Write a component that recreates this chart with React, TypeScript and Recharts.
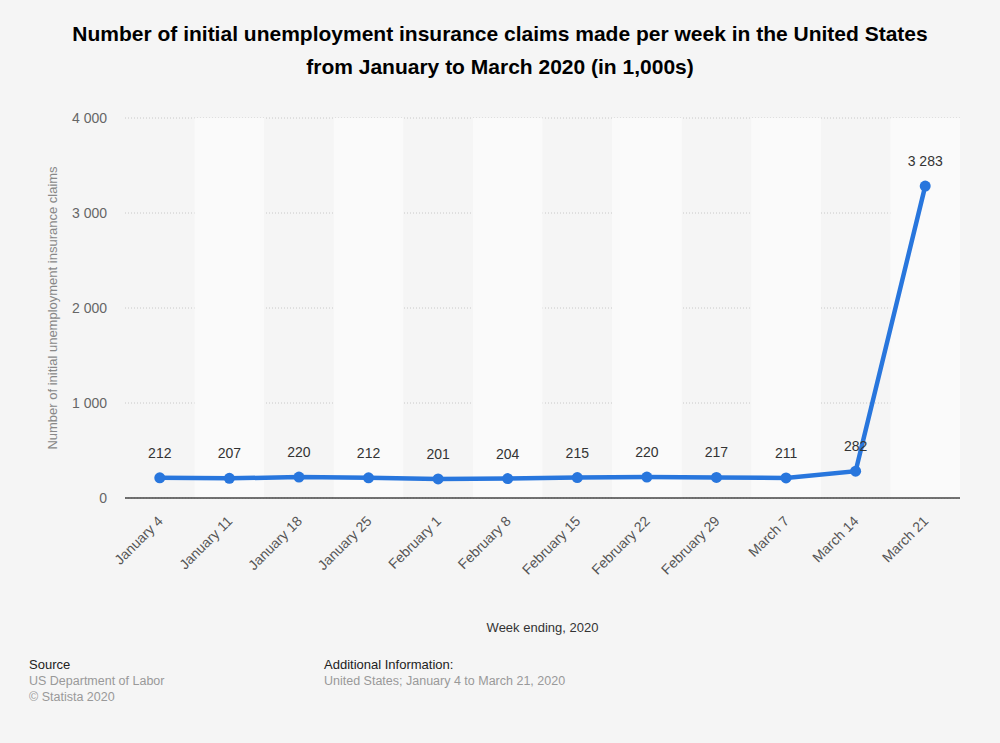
import React from "react";
import {
  CartesianGrid,
  LabelList,
  Line,
  LineChart,
  ReferenceArea,
  XAxis,
  YAxis,
} from "recharts";

const weeks = [
  "January 4",
  "January 11",
  "January 18",
  "January 25",
  "February 1",
  "February 8",
  "February 15",
  "February 22",
  "February 29",
  "March 7",
  "March 14",
  "March 21",
];
const claims = [212, 207, 220, 212, 201, 204, 215, 220, 217, 211, 282, 3283];
const yTicks = [0, 1000, 2000, 3000, 4000];

const data = weeks.map((week, i) => ({ week, claims: claims[i] }));

const font = "'Liberation Sans', Arial, Helvetica, sans-serif";
const blue = "#2876dd";

const fmt = (v: number) => String(v).replace(/\B(?=(\d{3})+(?!\d))/g, " ");

function WeekTick(props: any) {
  const { x, y, payload } = props;
  const tx = x + 4;
  const ty = y + 16;
  return (
    <text
      x={tx}
      y={ty}
      transform={`rotate(-45, ${tx}, ${ty})`}
      textAnchor="end"
      fontSize={14}
      fill="#555"
      fontFamily={font}
    >
      {payload.value}
    </text>
  );
}

export default function App() {
  return (
    <div
      style={{
        position: "absolute",
        left: 0,
        top: 0,
        width: 1000,
        height: 743,
        background: "#f5f5f5",
        fontFamily: font,
        overflow: "hidden",
      }}
    >
      <div
        style={{
          position: "absolute",
          top: 17,
          left: 0,
          width: 1000,
          textAlign: "center",
          fontSize: 21,
          fontWeight: "bold",
          lineHeight: "33px",
          color: "#000",
        }}
      >
        Number of initial unemployment insurance claims made per week in the United States
        <br />
        from January to March 2020 (in 1,000s)
      </div>

      <LineChart
        width={1000}
        height={743}
        data={data}
        margin={{ top: 118, right: 40, bottom: 145, left: 45 }}
        style={{ position: "absolute", left: 0, top: 0 }}
      >
        {weeks.map((w, i) =>
          i % 2 === 1 ? (
            <ReferenceArea
              key={w}
              x1={w}
              x2={w}
              y1={0}
              y2={4000}
              fill="#fafafa"
              fillOpacity={1}
              stroke="none"
            />
          ) : null
        )}
        <CartesianGrid
          vertical={false}
          stroke="#c8c8c8"
          strokeDasharray="1 2"
        />
        <XAxis
          dataKey="week"
          scale="band"
          tick={<WeekTick />}
          tickLine={false}
          axisLine={{ stroke: "#444", strokeWidth: 1.5 }}
          interval={0}
          height={100}
        />
        <YAxis
          domain={[0, 4000]}
          ticks={yTicks}
          tickFormatter={fmt}
          tickLine={false}
          axisLine={false}
          width={80}
          tickMargin={12}
          tick={{ fontSize: 14, fill: "#666", fontFamily: font }}
        />
        <Line
          dataKey="claims"
          stroke={blue}
          strokeWidth={4.5}
          dot={{ r: 5.5, fill: blue, stroke: blue, strokeWidth: 0 }}
          activeDot={false}
          isAnimationActive={false}
        >
          <LabelList
            dataKey="claims"
            position="top"
            offset={20}
            formatter={(v: any) => fmt(Number(v))}
            style={{ fontSize: 14, fill: "#333", fontFamily: font }}
          />
        </Line>
      </LineChart>

      <div
        style={{
          position: "absolute",
          left: 36,
          top: 308,
          width: 0,
          height: 0,
        }}
      >
        <div
          style={{
            position: "absolute",
            transform: "translate(-50%, -50%) rotate(-90deg)",
            whiteSpace: "nowrap",
            fontSize: 13,
            color: "#888",
            left: 16,
            top: 0,
          }}
        >
          Number of initial unemployment insurance claims
        </div>
      </div>

      <div
        style={{
          position: "absolute",
          top: 620,
          left: 125,
          width: 835,
          textAlign: "center",
          fontSize: 13,
          color: "#333",
        }}
      >
        Week ending, 2020
      </div>

      <div style={{ position: "absolute", left: 29, top: 657, fontSize: 13, lineHeight: "16px" }}>
        <div style={{ color: "#222" }}>Source</div>
        <div style={{ color: "#999", fontSize: 12.5 }}>US Department of Labor</div>
        <div style={{ color: "#999", fontSize: 12.5 }}>© Statista 2020</div>
      </div>
      <div style={{ position: "absolute", left: 324, top: 657, fontSize: 13, lineHeight: "16px" }}>
        <div style={{ color: "#222" }}>Additional Information:</div>
        <div style={{ color: "#999", fontSize: 12.5 }}>
          United States; January 4 to March 21, 2020
        </div>
      </div>
    </div>
  );
}
